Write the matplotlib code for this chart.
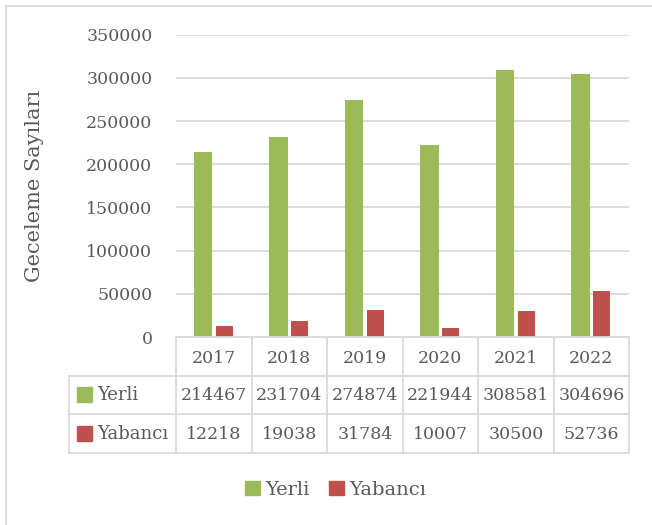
import numpy as np
import matplotlib
matplotlib.use("Agg")
import matplotlib.pyplot as plt
from matplotlib.patches import Rectangle
from matplotlib.lines import Line2D

years = ["2017", "2018", "2019", "2020", "2021", "2022"]
yerli = [214467, 231704, 274874, 221944, 308581, 304696]
yabanci = [12218, 19038, 31784, 10007, 30500, 52736]
series_names = ["Yerli", "Yabancı"]
colors = ["#9BBB59", "#C0504D"]
yticks = [0, 50000, 100000, 150000, 200000, 250000, 300000, 350000]

TXT = "#595959"
GRID = "#D9D9D9"
FONT = "DejaVu Serif"
plt.rcParams["font.family"] = FONT

W, H = 652, 525
fig = plt.figure(figsize=(W / 100, H / 100), dpi=100)


def box(x0, y0, x1, y1):
    # pixel box (top-left origin) -> figure fraction rect
    return [x0 / W, 1 - y1 / H, (x1 - x0) / W, (y1 - y0) / H]


# --- bars ---
ax = fig.add_axes(box(176, 34.6, 629, 337))
x = np.arange(len(years))
ax.bar(x - 0.14, yerli, 0.245, color=colors[0], zorder=3)
ax.bar(x + 0.14, yabanci, 0.225, color=colors[1], zorder=3)
ax.set_xlim(-0.5, 5.5)
ax.set_ylim(0, 350000)
ax.set_yticks(yticks)
ax.set_yticklabels([str(v) for v in yticks])
ax.set_xticks([])
ax.grid(axis="y", color=GRID, lw=1.3)
ax.set_axisbelow(True)
for s in ax.spines.values():
    s.set_visible(False)
ax.tick_params(axis="y", length=0, pad=17, labelsize=12.5, labelcolor=TXT)

fig.text(35 / W, 1 - 186 / H, "Geceleme Sayıları", rotation=90,
         ha="center", va="center", fontsize=15, color=TXT)

# --- data table ---
lab_w = (176 - 69.3) / 75.5
tax = fig.add_axes(box(69.3, 337, 629, 453))
tax.set_xlim(-0.5 - lab_w, 5.5)
tax.set_ylim(3, 0)
tax.axis("off")
left = -0.5 - lab_w
kw = dict(color=GRID, lw=1.3, clip_on=False)
tax.plot([-0.5, 5.5], [0, 0], **kw)
for r in (1, 2, 3):
    tax.plot([left, 5.5], [r, r], **kw)
tax.plot([left, left], [1, 3], **kw)
for c in range(len(years) + 1):
    tax.plot([c - 0.5, c - 0.5], [0, 3], **kw)

for i, yr in enumerate(years):
    tax.text(i, 0.55, yr, ha="center", va="center", fontsize=12.5, color=TXT)
for r, (name, vals, col) in enumerate(zip(series_names, [yerli, yabanci], colors), start=1):
    for i, v in enumerate(vals):
        tax.text(i, r + 0.52, str(v), ha="center", va="center", fontsize=12.5, color=TXT)
    tax.add_patch(Rectangle((left + 0.102, r + 0.3), 0.199, 0.39, color=col, clip_on=False))
    tax.text(left + 0.37, r + 0.5, name, ha="left", va="center", fontsize=13, color=TXT)

# --- legend ---
handles = [Rectangle((0, 0), 1, 1, color=c) for c in colors]
leg = fig.legend(handles, series_names, loc="center", bbox_to_anchor=(0.515, 1 - 490 / H),
                 ncol=2, frameon=False, fontsize=14, handlelength=0.75, handleheight=0.75,
                 handletextpad=0.3, columnspacing=1.0)
for t in leg.get_texts():
    t.set_color(TXT)

# outer frame (left and top edges)
fig.add_artist(Line2D([6 / W, 6 / W], [0, 1 - 6 / H], color=GRID, lw=1.3))
fig.add_artist(Line2D([6 / W, 1], [1 - 6 / H, 1 - 6 / H], color=GRID, lw=1.3))

fig.savefig("out.png", dpi=100)
